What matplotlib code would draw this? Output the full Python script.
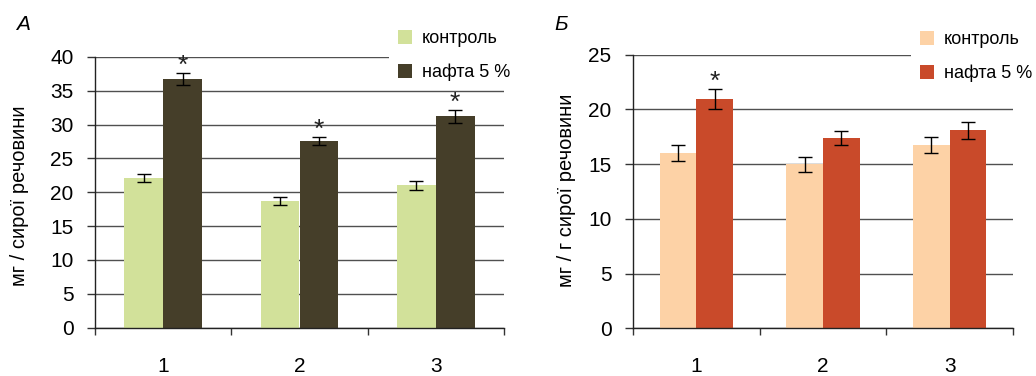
import matplotlib
matplotlib.use("Agg")
import matplotlib.pyplot as plt
import numpy as np

plt.rcParams['font.family'] = ['Liberation Sans', 'DejaVu Sans']

categories = ["1", "2", "3"]
series_names = ["контроль", "нафта 5 %"]

# Panel А
a_control = [22.1, 18.7, 21.0]
a_control_err = [0.55, 0.55, 0.7]
a_nafta = [36.7, 27.6, 31.2]
a_nafta_err = [0.9, 0.55, 0.95]
a_signif = [True, True, True]

# Panel Б
b_control = [16.0, 15.0, 16.75]
b_control_err = [0.7, 0.68, 0.7]
b_nafta = [20.95, 17.35, 18.1]
b_nafta_err = [0.94, 0.64, 0.78]
b_signif = [True, False, False]

W, H = 1036, 376
fig = plt.figure(figsize=(W / 100, H / 100), dpi=100)


def px_axes(l, r, t, b):
    return fig.add_axes([l / W, 1 - b / H, (r - l) / W, (b - t) / H])


def panel(ax, ctrl, ctrl_err, naf, naf_err, signif, colors, ymax, width,
          ylabel, ylabel_xy, letter, letter_xy, legend_xy):
    x = np.arange(len(categories))
    ax.bar(x - width / 2, ctrl, width, color=colors[0], label=series_names[0],
           zorder=2)
    ax.bar(x + width / 2, naf, width, color=colors[1], label=series_names[1],
           zorder=2)
    ekw = dict(fmt='none', ecolor='black', elinewidth=1.0, capsize=5,
               capthick=1.0, zorder=3)
    ax.errorbar(x - width / 2, ctrl, yerr=ctrl_err, **ekw)
    ax.errorbar(x + width / 2, naf, yerr=naf_err, **ekw)
    for xi, v, e, s in zip(x, naf, naf_err, signif):
        if s:
            ax.annotate('*', (xi + width / 2, v + e), xytext=(0, 0),
                        textcoords='offset points', ha='center',
                        va='baseline', fontsize=19, color='#222222')
    ax.set_xlim(-0.5, len(categories) - 0.5)
    ax.set_ylim(0, ymax)
    ax.set_yticks(np.arange(0, ymax + 0.1, 5))
    ax.set_xticks(np.arange(-0.5, len(categories), 1.0))
    ax.set_xticklabels([])
    ax.set_xticks(x, minor=True)
    ax.set_xticklabels(categories, minor=True)
    ax.tick_params(axis='x', which='major', direction='out', length=5,
                   width=1, color='#333333')
    ax.tick_params(axis='x', which='minor', length=0, pad=21, labelsize=15)
    ax.tick_params(axis='y', direction='out', length=5.5, width=1,
                   color='#333333', pad=10, labelsize=15)
    for sp in ('top', 'right'):
        ax.spines[sp].set_visible(False)
    for sp in ('left', 'bottom'):
        ax.spines[sp].set_color('#222222')
        ax.spines[sp].set_linewidth(1.0)
        ax.spines[sp].set_zorder(4)
    ax.yaxis.grid(True, color='#505050', linewidth=1.0, zorder=0)
    ax.set_axisbelow(True)
    fig.text(ylabel_xy[0] / W, 1 - ylabel_xy[1] / H, ylabel, rotation=90,
             ha='center', va='center', fontsize=14.5)
    fig.text(letter_xy[0] / W, 1 - letter_xy[1] / H, letter, ha='center',
             va='center', fontsize=15, style='italic')
    leg = ax.legend(loc='upper left',
                    bbox_to_anchor=(legend_xy[0] / W, 1 - legend_xy[1] / H),
                    bbox_transform=fig.transFigure, fontsize=13,
                    frameon=True, fancybox=False, framealpha=1,
                    facecolor='white', edgecolor='none', handlelength=0.8,
                    handleheight=0.8, handletextpad=0.5, labelspacing=0.9,
                    borderpad=0.5, borderaxespad=0)
    leg.set_zorder(5)


axA = px_axes(95, 504, 56.8, 327.7)
panel(axA, a_control, a_control_err, a_nafta, a_nafta_err, a_signif,
      ['#d2e19a', '#453e29'], 40, 0.284, 'мг / сирої речовини', (20, 196),
      'А', (23, 25), (389, 21))

axB = px_axes(633, 1013, 54.6, 328.3)
panel(axB, b_control, b_control_err, b_nafta, b_nafta_err, b_signif,
      ['#fdd2a6', '#c94a2a'], 25, 0.29, 'мг / г сирої речовини', (567, 190),
      'Б', (561, 25), (911, 22))

fig.savefig('out.png', dpi=100)
